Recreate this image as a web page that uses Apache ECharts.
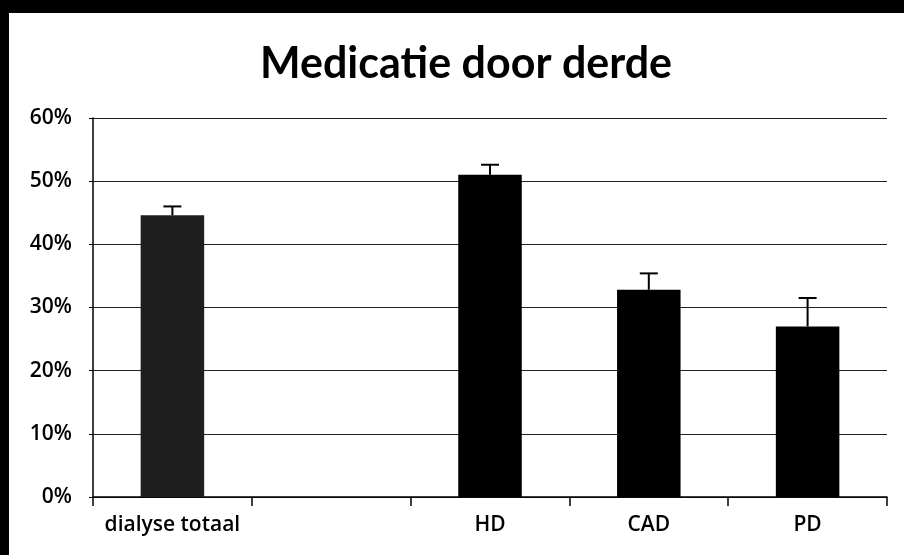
<!DOCTYPE html>
<html>
<head>
<meta charset="utf-8">
<script src="https://cdn.jsdelivr.net/npm/echarts@6/dist/echarts.min.js"></script>
<style>
  html, body { margin: 0; padding: 0; background: #fff; }
  #chart { width: 904px; height: 555px; }
</style>
</head>
<body>
<div id="chart"></div>
<script>
var categories = ['dialyse totaal', '', 'HD', 'CAD', 'PD'];
var values = [44.6, null, 51.0, 32.8, 27.0];
var errorTop = [46.0, null, 52.6, 35.4, 31.5];
var yTicks = [0, 10, 20, 30, 40, 50, 60];

var myChart = echarts.init(document.getElementById('chart'));

// bar colours: first one is a speckled dark grey in the original
var barData = values.map(function (v, i) {
    return { value: v, itemStyle: { color: i == 0 ? '#1e1e1e' : '#000' } };
});

var errData = [];
for (var i in values) {
    if (values[i] != null) errData.push([+i, values[i], errorTop[i]]);
}

var labelFont = { color: '#000', fontFamily: 'Open Sans', fontSize: 21, fontWeight: 600 };

var option = {
    animation: false,
    textStyle: { fontFamily: 'Lato' },
    title: {
        text: 'Medicatie door derde',
        left: 255,
        top: 38,
        textStyle: { fontFamily: 'Lato', fontSize: 43, fontWeight: 'bold', color: '#000' }
    },
    graphic: [
        { type: 'rect', shape: { x: 0, y: 0, width: 904, height: 13 }, style: { fill: '#000' } },
        { type: 'rect', shape: { x: 0, y: 0, width: 9, height: 555 }, style: { fill: '#000' } }
    ],
    grid: { left: 93, right: 17, top: 118, bottom: 58 },
    xAxis: {
        type: 'category',
        data: categories,
        axisLine: { lineStyle: { color: '#000', width: 1.5 } },
        axisTick: { show: true, interval: 0, length: 9, lineStyle: { color: '#000', width: 1.5 } },
        axisLabel: Object.assign({ margin: 18, interval: 0 }, labelFont)
    },
    yAxis: {
        type: 'value',
        min: 0,
        max: 60,
        interval: 10,
        axisLine: { show: true, lineStyle: { color: '#000', width: 1.5 } },
        axisTick: { show: true, length: 4, lineStyle: { color: '#000' } },
        axisLabel: Object.assign({
            margin: 21,
            formatter: function (v) { return yTicks.indexOf(v) >= 0 ? v + '%' : ''; }
        }, labelFont),
        splitLine: { lineStyle: { color: '#222', width: 1.2 } }
    },
    series: [
        {
            type: 'bar',
            data: barData,
            barWidth: '40%'
        },
        {
            type: 'custom',
            data: errData,
            z: 5,
            renderItem: function (params, api) {
                var top = api.coord([api.value(0), api.value(2)]);
                var base = api.coord([api.value(0), api.value(1)]);
                var cap = 9;
                var st = { stroke: '#000', lineWidth: 2 };
                return {
                    type: 'group',
                    children: [
                        { type: 'line', shape: { x1: top[0], y1: base[1], x2: top[0], y2: top[1] }, style: st },
                        { type: 'line', shape: { x1: top[0] - cap, y1: top[1], x2: top[0] + cap, y2: top[1] }, style: st }
                    ]
                };
            }
        }
    ]
};
myChart.setOption(option);
</script>
</body>
</html>
